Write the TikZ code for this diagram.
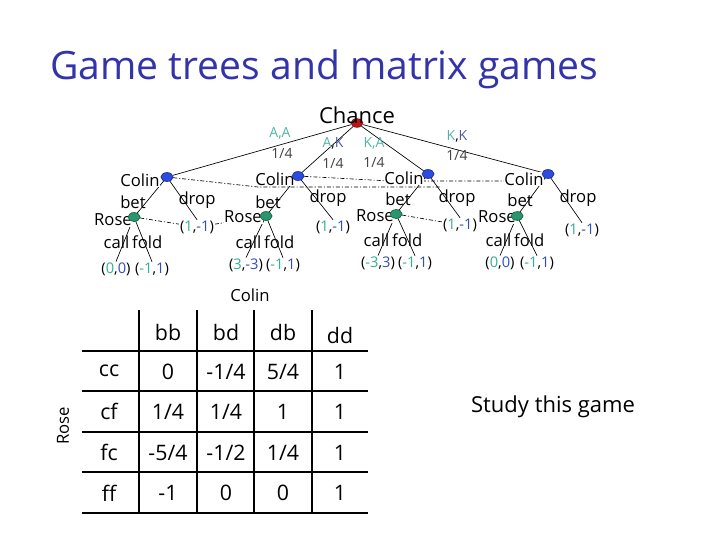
\documentclass[tikz,border=0pt]{standalone}
\usepackage{fontspec}
\setmainfont{Open Sans}
\usetikzlibrary{shapes.geometric}
\definecolor{titleblue}{RGB}{51,51,170}
\definecolor{payteal}{RGB}{50,175,150}
\definecolor{payblue}{RGB}{50,80,180}
\definecolor{cardteal}{RGB}{80,180,170}
\definecolor{cardblue}{RGB}{80,90,160}
\definecolor{nodeblue}{RGB}{45,75,225}
\definecolor{nodegreen}{RGB}{40,150,110}
\definecolor{nodered}{RGB}{190,20,20}
\newcommand{\pay}[2]{(\textcolor{payteal}{#1},\textcolor{payblue}{#2})}
\newcommand{\card}[2]{\textcolor{cardteal}{#1},\textcolor{cardblue}{#2}}
\tikzset{
  dec/.style={ellipse, inner sep=0pt, minimum width=9pt, minimum height=6.5pt, line width=0.4pt},
  colinnode/.style={dec, fill=nodeblue, draw=nodeblue!60!black},
  rosenode/.style={dec, fill=nodegreen, draw=nodegreen!60!black},
  chancenode/.style={dec, fill=nodered, draw=nodered!60!black},
  lab/.style={font=\fontsize{12.5}{14}\selectfont, inner sep=0.5pt},
  wlab/.style={lab, fill=white},
  paylab/.style={font=\fontsize{11}{13}\selectfont, inner sep=0.5pt, fill=white},
  cardlab/.style={font=\fontsize{10.5}{12}\selectfont, inner sep=0.5pt},
  probl/.style={font=\fontsize{10.5}{12}\selectfont, inner sep=0.5pt, text=black!75},
  tedge/.style={line width=0.5pt},
  infoline/.style={line width=0.5pt, dash pattern=on 3pt off 1.5pt on 0.8pt off 1.5pt},
  tab/.style={font=\fontsize{16}{18}\selectfont, inner sep=0pt},
  grid/.style={line width=1.5pt}
}
\begin{document}
\begin{tikzpicture}[x=0.75pt,y=-0.75pt]
\useasboundingbox (0,0) rectangle (720,540);
% title
\node[font=\fontsize{29.3}{34}\selectfont, text=titleblue, anchor=base west, inner sep=0pt] (title) at (50,79) {Game trees and matrix games};
% tree nodes
\node[chancenode] (ch) at (357,123) {};
\node[font=\fontsize{16.5}{18}\selectfont, anchor=south, inner sep=1pt] (chl) at (357,125) {Chance};
\node[colinnode] (c1) at (167,177) {};
\node[colinnode] (c2) at (298,176) {};
\node[colinnode] (c3) at (428,174) {};
\node[colinnode] (c4) at (548,174) {};
\node[rosenode] (r1) at (134,217) {};
\node[rosenode] (r2) at (266,216) {};
\node[rosenode] (r3) at (396,214) {};
\node[rosenode] (r4) at (517,216) {};
% payoffs
\node[paylab] (d1) at (197,227) {\pay{1}{-1}};
\node[paylab] (d2) at (333,227) {\pay{1}{-1}};
\node[paylab] (d3) at (460,225) {\pay{1}{-1}};
\node[paylab] (d4) at (582,230) {\pay{1}{-1}};
\node[paylab] (p1c) at (116,269) {\pay{0}{0}};
\node[paylab] (p1f) at (152,269) {\pay{-1}{1}};
\node[paylab] (p2c) at (246,265) {\pay{3}{-3}};
\node[paylab] (p2f) at (283,265) {\pay{-1}{1}};
\node[paylab] (p3c) at (378,263) {\pay{-3}{3}};
\node[paylab] (p3f) at (415,263) {\pay{-1}{1}};
\node[paylab] (p4c) at (500,263) {\pay{0}{0}};
\node[paylab] (p4f) at (537,263) {\pay{-1}{1}};
% chance edges
\draw[tedge] (ch) -- (c1);
\draw[tedge] (ch) -- (c2);
\draw[tedge] (ch) -- (c3);
\draw[tedge] (ch) -- (c4);
% colin edges
\foreach \c/\r/\d in {c1/r1/d1, c2/r2/d2, c3/r3/d3, c4/r4/d4}{
  \draw[tedge] (\c) -- (\r);
  \draw[tedge] (\c) -- (\d.north);
}
% rose edges
\foreach \r/\a/\b in {r1/p1c/p1f, r2/p2c/p2f, r3/p3c/p3f, r4/p4c/p4f}{
  \draw[tedge] (\r) -- (\a.north);
  \draw[tedge] (\r) -- (\b.north);
}
% information sets
\coordinate (i1end) at (440,187);
\draw[infoline] (c1) -- (258,187) -- (i1end);
\draw[infoline] (c2) -- (390,181) -- (505,181) -- (c4);
\draw[infoline] (r1) -- (d1) -- (r2);
\draw[infoline] (r3) -- (d3) -- (r4);
% redraw payoffs over info lines
\node[paylab] at (d1) {\pay{1}{-1}};
\node[paylab] at (d3) {\pay{1}{-1}};
% labels
\node[wlab] (lc1) at (140,180) {Colin};
\node[wlab] (lc2) at (275,179) {Colin};
\node[wlab] (lc3) at (404,178) {Colin};
\node[wlab] (lc4) at (524,179) {Colin};
\node[wlab] (lr1) at (113,220) {Rose};
\node[wlab] (lr2) at (243,217) {Rose};
\node[wlab] (lr3) at (375,216) {Rose};
\node[wlab] (lr4) at (497,217) {Rose};
\node[colinnode] at (c1) {};
\node[colinnode] at (c2) {};
\node[colinnode] at (c3) {};
\node[colinnode] at (c4) {};
\node[rosenode] at (r1) {};
\node[rosenode] at (r2) {};
\node[rosenode] at (r3) {};
\node[rosenode] at (r4) {};
\foreach \n/\x/\y in {b1/133/202, b2/268/202, b3/398/199, b4/520/200}{
  \node[lab] (\n) at (\x,\y) {bet};
}
\foreach \n/\x/\y in {dr1/197/200, dr2/328/198, dr3/457/198, dr4/578/198}{
  \node[lab] (\n) at (\x,\y) {drop};
}
\foreach \n/\x/\y in {cf1/133/242, cf2/265/242, cf3/393/240, cf4/515/240}{
  \node[lab] (\n) at (\x,\y) {call\,fold};
}
% chance labels
\node[cardlab] (k1) at (280,133) {\textcolor{cardteal}{A,A}};
\node[probl] (q1) at (282,153) {1/4};
\node[cardlab] (k2) at (333,143) {\card{A}{K}};
\node[probl] (q2) at (333,163) {1/4};
\node[cardlab] (k3) at (374,143) {\textcolor{cardteal}{K,A}};
\node[probl] (q3) at (374,162) {1/4};
\node[cardlab] (k4) at (457,136) {\card{K}{K}};
\node[probl] (q4) at (457,155) {1/4};
% matrix
\node[font=\fontsize{12.5}{14}\selectfont] (mcol) at (250,295) {Colin};
\node[font=\fontsize{12.5}{14}\selectfont, rotate=90] (mrow) at (63,426) {Rose};
\foreach \x in {139,197,254,312}{ \draw[grid] (\x,310) -- (\x,513); }
\foreach \y in {351,391,432,472,513}{ \draw[grid] (82,\y) -- (368,\y); }
\node[tab] at (168,332) {bb};
\node[tab] at (226,332) {bd};
\node[tab] at (283,332) {db};
\node[tab] at (340,335) {dd};
\foreach \lbl/\y in {cc/371, cf/411, fc/452, ff/493}{ \node[tab] at (109,\y) {\lbl}; }
\foreach \a/\b/\c/\d [count=\i] in {0/-1\slash 4/5\slash 4/1, 1\slash 4/1\slash 4/1/1, -5\slash 4/-1\slash 2/1\slash 4/1, -1/0/0/1}{
  \pgfmathsetmacro{\yy}{331+40.5*\i}
  \node[tab] at (168,\yy) {\a};
  \node[tab] at (226,\yy) {\b};
  \node[tab] at (283,\yy) {\c};
  \node[tab] at (340,\yy) {\d};
}
\node[font=\fontsize{16.5}{19}\selectfont] (study) at (553,407) {Study this game};
\end{tikzpicture}
\end{document}
